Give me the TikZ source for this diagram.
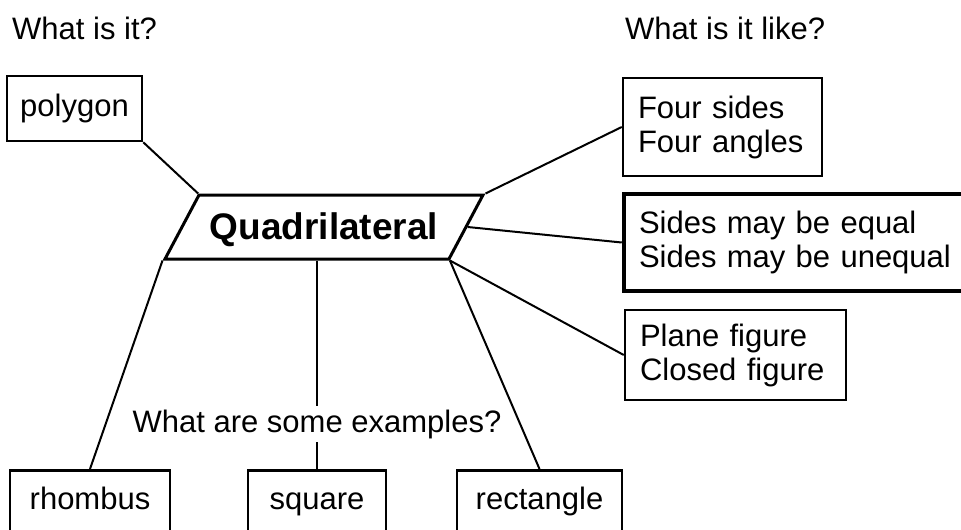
\documentclass[tikz,border=0pt]{standalone}
\usepackage{fontspec}
\setmainfont{Liberation Sans}
\usetikzlibrary{shapes.geometric}

\begin{document}
\begin{tikzpicture}[
    x=1pt, y=-1pt,
    font=\fontsize{31pt}{34pt}\selectfont,
    box/.style={draw, line width=2.5pt, inner sep=0pt},
    info/.style={draw, line width=2.5pt, inner xsep=15pt, inner ysep=0pt, align=left},
    example/.style={box, anchor=north, text height=24pt, text depth=30pt, inner ysep=15pt},
    title/.style={anchor=base west, inner sep=0pt},
    link/.style={line width=2pt}
]
\useasboundingbox (0,0) rectangle (961,530);

% Questions
\node[title] (whatis) at (12,39) {What is it?};
\node[title] (whatlike) at (625,39) {What is it like?};

% Centre shape
\node[draw, line width=3pt, trapezium, trapezium left angle=62, trapezium right angle=118,
      trapezium stretches body, minimum width=318pt, text height=28pt, text depth=4pt,
      inner ysep=16pt, inner xsep=0pt,
      font=\fontsize{37pt}{40pt}\selectfont\bfseries] (quad) at (324,227) {Quadrilateral};

% What is it?
\node[box, minimum width=135pt, minimum height=65pt] (polygon) at (74.5,108.5) {polygon};

% What is it like?
\node[info, text width=169pt, minimum height=98pt] (sides4) at (722.5,127) {Four sides\\Four angles};
\node[info, line width=4.5pt, text width=320pt, minimum height=97pt] (equal) at (799,242.5) {Sides may be equal\\Sides may be unequal};
\node[info, text width=191pt, minimum height=90pt] (plane) at (735.5,355) {Plane figure\\Closed figure};

% Examples
\node[inner xsep=0pt, inner ysep=3.5pt, anchor=base] (examples) at (317,432) {What are some examples?};
\node[example, minimum width=160pt] (rhombus) at (90,469) {rhombus};
\node[example, minimum width=138pt] (square) at (317,469) {square};
\node[example, minimum width=165pt] (rectangle) at (539.5,469) {rectangle};

% Links
\draw[link] (polygon.south east) -- (quad.top left corner);
\draw[link] (quad.top right corner) -- (sides4.west);
\draw[link] (quad.east) -- (equal.west);
\draw[link] (quad.bottom right corner) -- (plane.west);
\draw[link] (quad.bottom left corner) -- (rhombus.north);
\draw[link] (quad.bottom right corner) -- (rectangle.north);
\draw[link] (examples.north |- quad.south) -- (examples.north);
\draw[link] (examples.south) -- (square.north);

\end{tikzpicture}
\end{document}
